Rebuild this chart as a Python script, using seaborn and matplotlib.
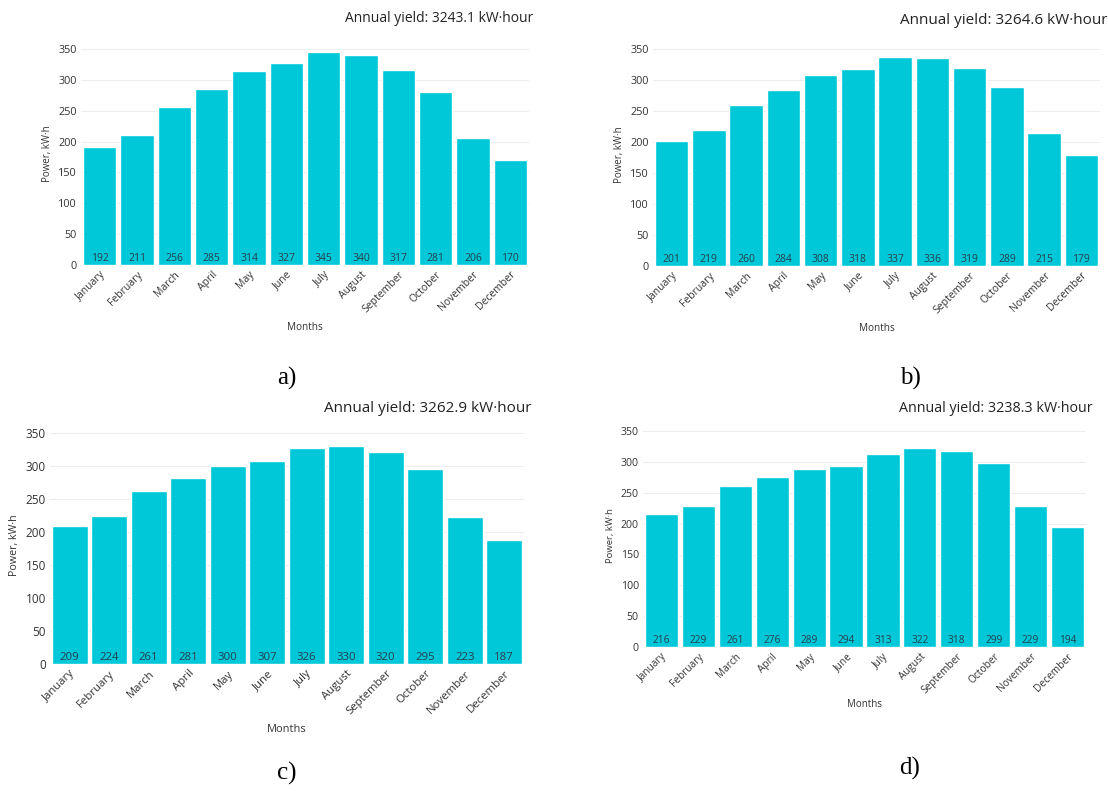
import matplotlib
matplotlib.use("Agg")
import matplotlib.pyplot as plt
import seaborn as sns
import pandas as pd

# data
months = ["January", "February", "March", "April", "May", "June", "July",
          "August", "September", "October", "November", "December"]
yield_a = [192, 211, 256, 285, 314, 327, 345, 340, 317, 281, 206, 170]
yield_b = [201, 219, 260, 284, 308, 318, 337, 336, 319, 289, 215, 179]
yield_c = [209, 224, 261, 281, 300, 307, 326, 330, 320, 295, 223, 187]
yield_d = [216, 229, 261, 276, 289, 294, 313, 322, 318, 299, 229, 194]
totals = ["3243.1", "3264.6", "3262.9", "3238.3"]
captions = ["a)", "b)", "c)", "d)"]

sns.set_theme(style="white")
plt.rcParams["font.family"] = ["Open Sans", "DejaVu Sans"]

BAR = "#00c8d8"
W, H = 1108, 791

fig = plt.figure(figsize=(W / 100, H / 100), dpi=100)

# axes boxes in pixels: left, right, top(ylim top), bottom(zero)
boxes = [(81, 529, 43, 265), (653, 1100, 43, 266),
         (50, 524, 426, 664), (643, 1086, 425, 647)]
title_pos = [(533, 18), (1108, 21), (532, 408), (1093, 408)]
title_fs = [10, 11, 11, 10.3]
tick_fs = [7.8, 7.8, 8.5, 7.6]
xlab_pad = [5, 5, 5, 2]
cap_pos = [(287, 378), (910, 378), (287, 773), (910, 768)]

for i, vals in enumerate([yield_a, yield_b, yield_c, yield_d]):
    l, r, t, b = boxes[i]
    fs = tick_fs[i]
    ax = fig.add_axes([l / W, 1 - b / H, (r - l) / W, (b - t) / H])
    df = pd.DataFrame({"Months": months, "Power": vals})
    sns.barplot(data=df, x="Months", y="Power", color=BAR, saturation=1,
                width=0.9, ax=ax, zorder=2)
    ax.set_ylim(0, 360)
    ax.set_yticks(range(0, 351, 50))
    ax.grid(axis="y", color="#ededed", linewidth=0.8, zorder=0)
    ax.set_axisbelow(True)
    sns.despine(ax=ax, left=True, bottom=True)
    ax.tick_params(axis="both", length=0, labelsize=fs, colors="#333333")
    ax.tick_params(axis="y", pad=3)
    ax.tick_params(axis="x", pad=3)
    plt.setp(ax.get_xticklabels(), rotation=45, ha="right",
             rotation_mode="anchor", fontsize=fs - 0.3)
    ax.set_xlabel("Months", fontsize=fs - 0.6, color="#333333",
                  labelpad=xlab_pad[i])
    ax.set_ylabel("Power, kW·h", fontsize=fs - 0.8, color="#333333",
                  labelpad=4)
    for patch, v in zip(ax.patches, vals):
        ax.annotate(str(v), (patch.get_x() + patch.get_width() / 2, 0),
                    xytext=(0, 1), textcoords="offset points",
                    ha="center", va="bottom", fontsize=fs - 0.3,
                    color="#24404f")
    tx, ty = title_pos[i]
    fig.text(tx / W, 1 - ty / H, f"Annual yield: {totals[i]} kW·hour",
             ha="right", va="center", fontsize=title_fs[i], color="#222222")
    cx, cy = cap_pos[i]
    fig.text(cx / W, 1 - cy / H, captions[i], ha="center", va="center",
             fontsize=18, family="Liberation Serif", color="black")

fig.savefig("out.png", dpi=100, facecolor="white")
